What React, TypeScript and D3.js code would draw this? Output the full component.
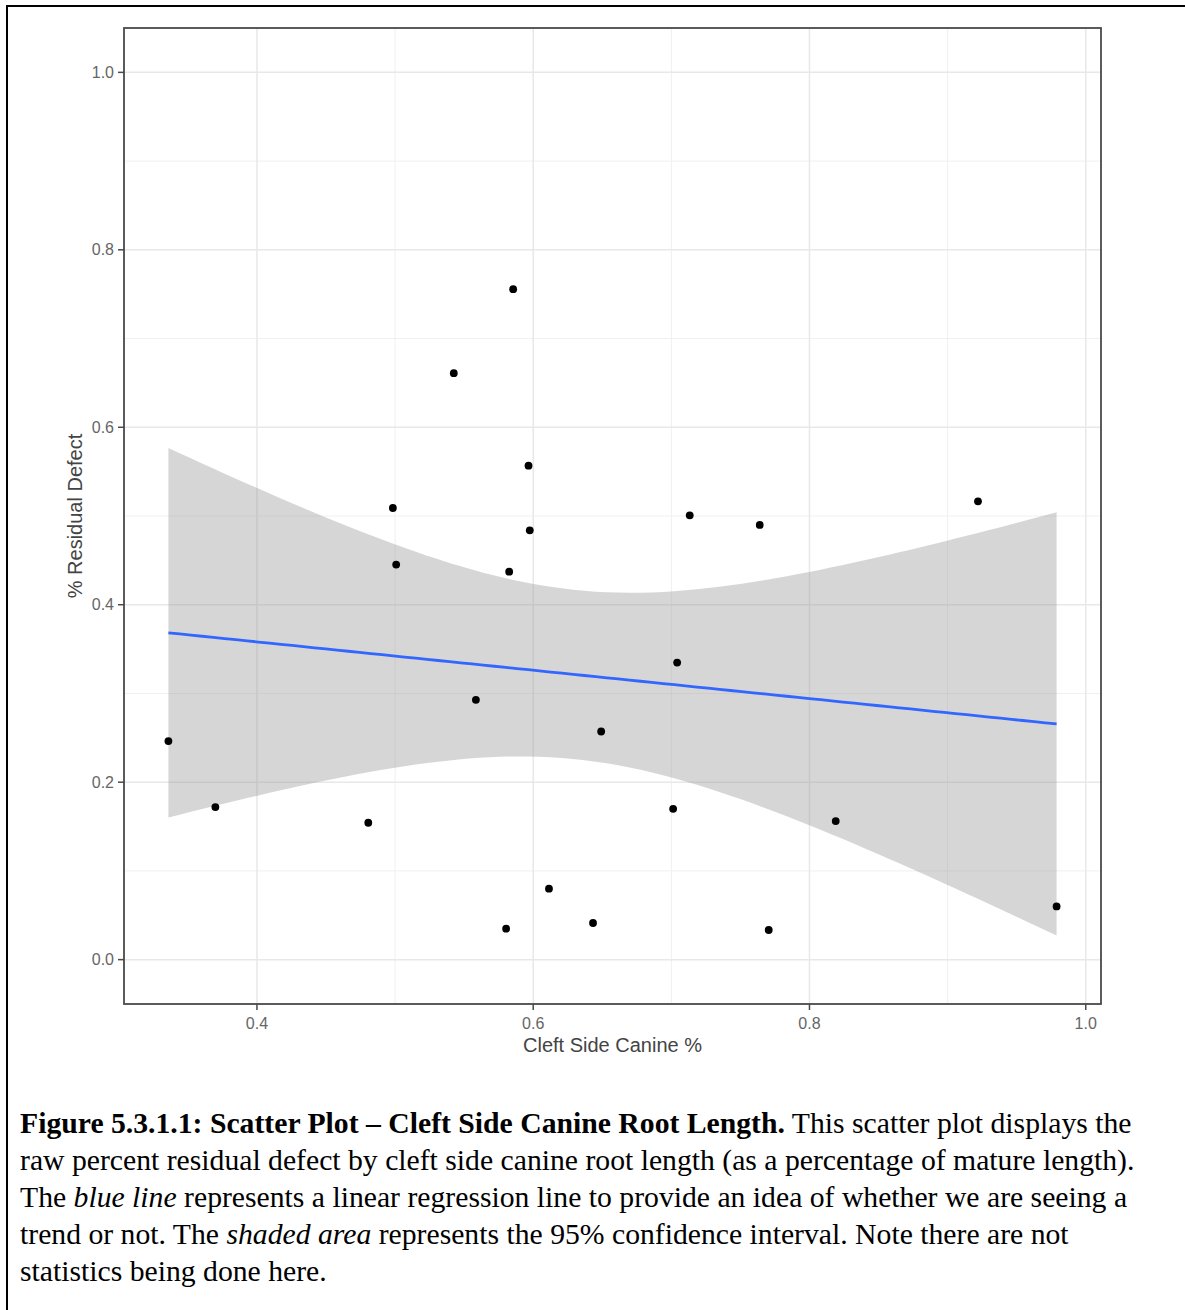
import React from 'react';
import * as d3 from 'd3';

// Cleft side canine root length (fraction of mature length)
const canineX = [0.3359, 0.3699, 0.4806, 0.4984, 0.5008, 0.5425, 0.5585, 0.5804, 0.5826, 0.5855, 0.5966, 0.5975, 0.6114, 0.6433, 0.6492, 0.7013, 0.7042, 0.7133, 0.7640, 0.7705, 0.8190, 0.9220, 0.9789];
// Percent residual defect
const defectY = [0.2463, 0.1720, 0.1543, 0.5090, 0.4452, 0.6610, 0.2928, 0.0349, 0.4373, 0.7556, 0.5567, 0.4839, 0.0800, 0.0413, 0.2571, 0.1700, 0.3348, 0.5008, 0.4899, 0.0334, 0.1562, 0.5165, 0.0600];

const xTickValues = [0.4, 0.6, 0.8, 1.0];
const xMinorValues = [0.5, 0.7, 0.9];
const yTickValues = [0, 0.2, 0.4, 0.6, 0.8, 1.0];
const yMinorValues = [0.1, 0.3, 0.5, 0.7, 0.9];
const yLimits = [0, 1];

const xTitle = 'Cleft Side Canine %';
const yTitle = '% Residual Defect';

// two-sided 95% t critical value for df = n - 2 = 21
const T_CRIT = 2.0796;

const W = 1185;
const H = 1310;
const P = { left: 124, right: 1101, top: 28, bottom: 1004 };

export default function App() {
  const n = canineX.length;
  const xExt = d3.extent(canineX) as [number, number];
  const xr = xExt[1] - xExt[0];
  const x = d3.scaleLinear().domain([xExt[0] - 0.05 * xr, xExt[1] + 0.05 * xr]).range([P.left, P.right]);
  const yr = yLimits[1] - yLimits[0];
  const y = d3.scaleLinear().domain([yLimits[0] - 0.05 * yr, yLimits[1] + 0.05 * yr]).range([P.bottom, P.top]);

  // linear regression + 95% CI (as geom_smooth(method = "lm"))
  const mx = d3.mean(canineX)!;
  const my = d3.mean(defectY)!;
  const sxx = d3.sum(canineX, (v) => (v - mx) ** 2);
  const sxy = d3.sum(canineX, (v, i) => (v - mx) * (defectY[i] - my));
  const slope = sxy / sxx;
  const intercept = my - slope * mx;
  const ssr = d3.sum(canineX, (v, i) => (defectY[i] - (intercept + slope * v)) ** 2);
  const s = Math.sqrt(ssr / (n - 2));
  const grid = d3.range(80).map((i) => xExt[0] + (i / 79) * xr);
  const fit = grid.map((gx) => {
    const yh = intercept + slope * gx;
    const se = s * Math.sqrt(1 / n + (gx - mx) ** 2 / sxx);
    return { x: gx, y: yh, lo: yh - T_CRIT * se, hi: yh + T_CRIT * se };
  });

  const area = d3
    .area<{ x: number; lo: number; hi: number }>()
    .x((d) => x(d.x))
    .y0((d) => y(d.lo))
    .y1((d) => y(d.hi));
  const line = d3
    .line<{ x: number; y: number }>()
    .x((d) => x(d.x))
    .y((d) => y(d.y));

  const fmt = d3.format('.1f');
  const sans = '"Liberation Sans", Arial, Helvetica, sans-serif';
  const serif = '"Liberation Serif", "Times New Roman", serif';
  const capSize = 29.7;
  const capX = 20;
  const capY0 = 1133;
  const capDy = 37;

  return (
    <svg
      width={W}
      height={H}
      viewBox={`0 0 ${W} ${H}`}
      style={{ position: 'absolute', left: 0, top: 0, background: '#fff' }}
    >
      <rect x={0} y={0} width={W} height={H} fill="#fff" />
      {/* outer frame */}
      <rect x={7} y={6} width={W + 10} height={H + 10} fill="none" stroke="#000" strokeWidth={2} />

      {/* panel */}
      <rect x={P.left} y={P.top} width={P.right - P.left} height={P.bottom - P.top} fill="#fff" />
      {/* minor grid */}
      {yMinorValues.map((v) => (
        <line key={'ym' + v} x1={P.left} x2={P.right} y1={y(v)} y2={y(v)} stroke="#F0F0F0" strokeWidth={1} />
      ))}
      {xMinorValues.map((v) => (
        <line key={'xm' + v} x1={x(v)} x2={x(v)} y1={P.top} y2={P.bottom} stroke="#F0F0F0" strokeWidth={1} />
      ))}
      {/* major grid */}
      {yTickValues.map((v) => (
        <line key={'yg' + v} x1={P.left} x2={P.right} y1={y(v)} y2={y(v)} stroke="#E8E8E8" strokeWidth={1.5} />
      ))}
      {xTickValues.map((v) => (
        <line key={'xg' + v} x1={x(v)} x2={x(v)} y1={P.top} y2={P.bottom} stroke="#E8E8E8" strokeWidth={1.5} />
      ))}

      {/* confidence ribbon */}
      <path d={area(fit)!} fill="#999999" fillOpacity={0.4} stroke="none" />
      {/* regression line */}
      <path d={line(fit)!} fill="none" stroke="#3366FF" strokeWidth={2.8} />

      {/* points */}
      {canineX.map((cx, i) => (
        <circle key={'p' + i} cx={x(cx)} cy={y(defectY[i])} r={3.9} fill="#000" />
      ))}

      {/* panel border */}
      <rect
        x={P.left}
        y={P.top}
        width={P.right - P.left}
        height={P.bottom - P.top}
        fill="none"
        stroke="#4a4a4a"
        strokeWidth={1.8}
      />

      {/* y axis ticks & labels */}
      {yTickValues.map((v) => (
        <g key={'yt' + v}>
          <line x1={P.left - 6} x2={P.left} y1={y(v)} y2={y(v)} stroke="#4a4a4a" strokeWidth={1.5} />
          <text
            x={P.left - 10}
            y={y(v)}
            dy="0.35em"
            textAnchor="end"
            fontFamily={sans}
            fontSize={16}
            fill="#666"
          >
            {fmt(v)}
          </text>
        </g>
      ))}
      {/* x axis ticks & labels */}
      {xTickValues.map((v) => (
        <g key={'xt' + v}>
          <line x1={x(v)} x2={x(v)} y1={P.bottom} y2={P.bottom + 6} stroke="#4a4a4a" strokeWidth={1.5} />
          <text x={x(v)} y={P.bottom + 25} textAnchor="middle" fontFamily={sans} fontSize={16} fill="#666">
            {fmt(v)}
          </text>
        </g>
      ))}

      {/* axis titles */}
      <text
        x={(P.left + P.right) / 2}
        y={1052}
        textAnchor="middle"
        fontFamily={sans}
        fontSize={20}
        fill="#444"
      >
        {xTitle}
      </text>
      <text
        transform={`translate(82, ${(P.top + P.bottom) / 2}) rotate(-90)`}
        textAnchor="middle"
        fontFamily={sans}
        fontSize={20}
        fill="#444"
      >
        {yTitle}
      </text>

      {/* caption */}
      <g fontFamily={serif} fontSize={capSize} fill="#000">
        <text x={capX} y={capY0}>
          <tspan fontWeight="bold">Figure 5.3.1.1: Scatter Plot – Cleft Side Canine Root Length.</tspan>
          <tspan> This scatter plot displays the</tspan>
        </text>
        <text x={capX} y={capY0 + capDy}>
          raw percent residual defect by cleft side canine root length (as a percentage of mature length).
        </text>
        <text x={capX} y={capY0 + 2 * capDy}>
          <tspan>The </tspan>
          <tspan fontStyle="italic">blue line</tspan>
          <tspan> represents a linear regression line to provide an idea of whether we are seeing a</tspan>
        </text>
        <text x={capX} y={capY0 + 3 * capDy}>
          <tspan>trend or not. The </tspan>
          <tspan fontStyle="italic">shaded area</tspan>
          <tspan> represents the 95% confidence interval. Note there are not</tspan>
        </text>
        <text x={capX} y={capY0 + 4 * capDy}>
          statistics being done here.
        </text>
      </g>
    </svg>
  );
}
